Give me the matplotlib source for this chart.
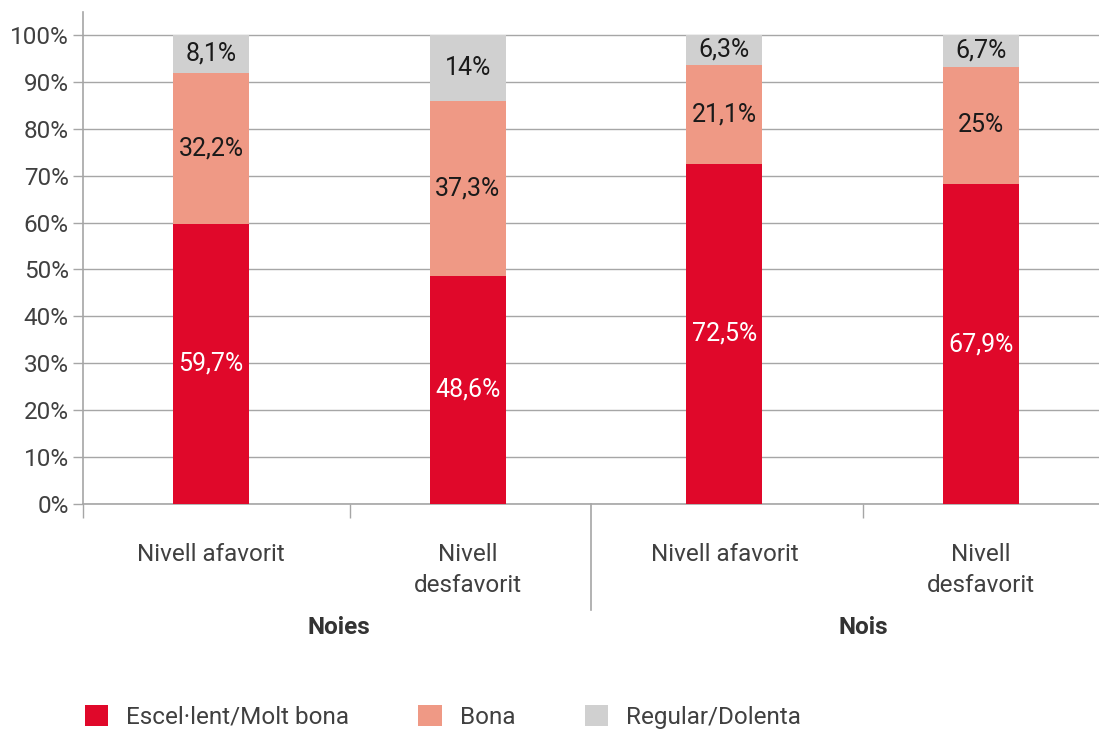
import matplotlib
matplotlib.use("Agg")
import matplotlib.pyplot as plt
import numpy as np
from matplotlib.patches import Patch

plt.rcParams['font.family'] = ['Roboto', 'DejaVu Sans']

categories = ["Nivell afavorit", "Nivell\ndesfavorit", "Nivell afavorit", "Nivell\ndesfavorit"]
groups = ["Noies", "Nois"]
series_names = ["Escel·lent/Molt bona", "Bona", "Regular/Dolenta"]
excel = [59.7, 48.6, 72.5, 67.9]
bona = [32.2, 37.3, 21.1, 25.0]
regular = [8.1, 14.0, 6.3, 6.7]
label_excel = ["59,7%", "48,6%", "72,5%", "67,9%"]
label_bona = ["32,2%", "37,3%", "21,1%", "25%"]
label_regular = ["8,1%", "14%", "6,3%", "6,7%"]
yticks = [0, 10, 20, 30, 40, 50, 60, 70, 80, 90, 100]

colors = ["#E0082A", "#EF9985", "#D0D0D0"]
text_colors = ["white", "#1a1a1a", "#1a1a1a"]
grid_c = "#A6A6A6"
tick_c = "#404040"

W, H = 1099, 729
fig = plt.figure(figsize=(W / 100, H / 100), dpi=100)
ax_left = 82.6 / W
ax = fig.add_axes([ax_left, (H - 504) / H, 1 - ax_left, (504 - 12) / H])

x = np.arange(len(categories))
data = np.array([excel, bona, regular])
totals = data.sum(axis=0)
shares = data / totals * 100
labels = [label_excel, label_bona, label_regular]
bw = 0.296
bottom = np.zeros(len(categories))
for i in range(3):
    ax.bar(x, shares[i], bw, bottom=bottom, color=colors[i], zorder=3, label=series_names[i])
    for j in range(len(categories)):
        ax.text(x[j], bottom[j] + shares[i][j] / 2, labels[i][j], ha='center', va='center',
                fontsize=18, color=text_colors[i], zorder=4)
    bottom += shares[i]

ax.set_xlim(-0.5, (W - 211) / 256.7)
ax.set_ylim(0, 104.9)
ax.set_yticks(yticks)
ax.set_yticklabels([f"{v}%" for v in yticks], fontsize=17.5, color=tick_c)
ax.yaxis.grid(True, color=grid_c, linewidth=1)
ax.set_axisbelow(True)
ax.tick_params(axis='y', length=7, color=grid_c, width=1, pad=3)

ax.set_xticks(x)
ax.set_xticklabels(categories, fontsize=17.5, color=tick_c, linespacing=1.45)
ax.tick_params(axis='x', length=0, pad=28)
ax.set_xticks([-0.5, 0.54, 2.54], minor=True)
ax.tick_params(axis='x', which='minor', length=10, color=grid_c, width=1)

for s in ['top', 'right']:
    ax.spines[s].set_visible(False)
for s in ['left', 'bottom']:
    ax.spines[s].set_color(grid_c)
    ax.spines[s].set_linewidth(1.2)

# group separator
ax.plot([1.48, 1.48], [0, -22.5], color=grid_c, linewidth=1.2, clip_on=False, transform=ax.transData)

# group labels
ax.text(0.5, -26.3, groups[0], ha='center', va='center', fontsize=17.5, fontweight='bold', color='#333333')
ax.text(2.54, -26.3, groups[1], ha='center', va='center', fontsize=17.5, fontweight='bold', color='#333333')

handles = [Patch(facecolor=c, edgecolor='none') for c in colors]
fig.legend(handles, series_names, loc='center left', bbox_to_anchor=(63 / W, 1 - 717 / H), ncol=3,
           frameon=False, fontsize=17.5, handlelength=0.95, handleheight=0.95, handletextpad=0.75,
           columnspacing=2.85, labelcolor=tick_c)

fig.savefig("out.png", dpi=100)
